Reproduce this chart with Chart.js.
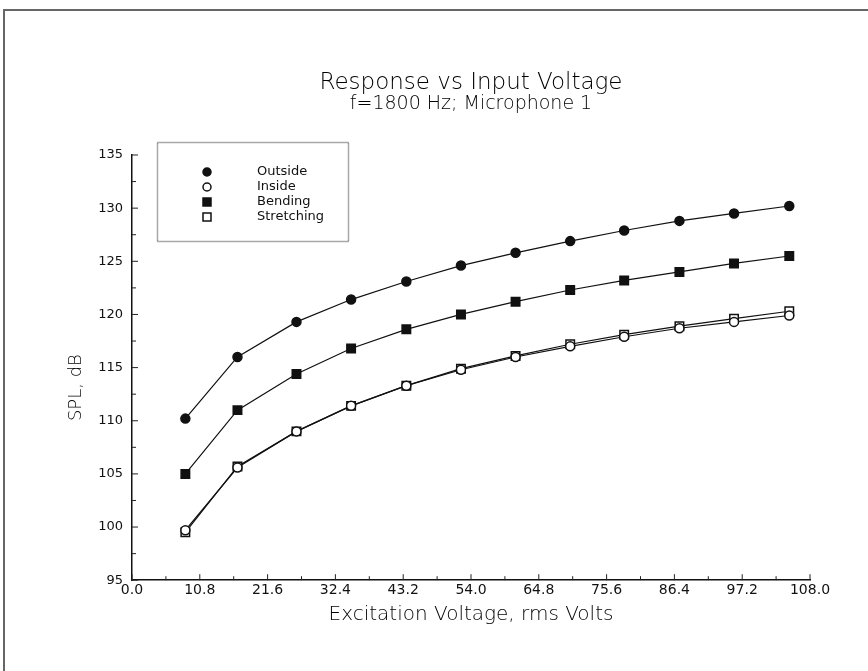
<!DOCTYPE html>
<html>
<head>
<meta charset="utf-8">
<title>Response vs Input Voltage</title>
<script src="https://cdn.jsdelivr.net/npm/chart.js@4.4.1/dist/chart.umd.min.js"></script>
<style>
  html, body { margin: 0; padding: 0; background: #fff; }
  #wrap { position: relative; width: 868px; height: 671px; }
  #frame { position: absolute; left: 3px; top: 9px; right: 0; bottom: 0;
           border-left: 2px solid #666; border-top: 2px solid #666; }
  canvas { position: absolute; left: 0; top: 0; }
</style>
</head>
<body>
<div id="wrap">
  <div id="frame"></div>
  <canvas id="myChart" width="868" height="671"></canvas>
</div>
<script>
// 電圧（横軸）
var voltage = [8.5, 16.8, 26.2, 34.9, 43.7, 52.4, 61.1, 69.8, 78.4, 87.2, 95.9, 104.7];

// 各系列のSPL値 (dB)
var outside    = [110.2, 116.0, 119.3, 121.4, 123.1, 124.6, 125.8, 126.9, 127.9, 128.8, 129.5, 130.2];
var inside     = [99.7, 105.6, 109.0, 111.4, 113.3, 114.8, 116.0, 117.0, 117.9, 118.7, 119.3, 119.9];
var bending    = [105.0, 111.0, 114.4, 116.8, 118.6, 120.0, 121.2, 122.3, 123.2, 124.0, 124.8, 125.5];
var stretching = [99.5, 105.7, 109.0, 111.4, 113.3, 114.9, 116.1, 117.2, 118.1, 118.9, 119.6, 120.3];

var seriesNames = ['Outside', 'Inside', 'Bending', 'Stretching'];
var xTickStep = 10.8;
var yTickStep = 5;

function pts(vals) {
  var arr = [];
  for (var i = 0; i < vals.length; i++) {
    arr.push({ x: voltage[i], y: vals[i] });
  }
  return arr;
}

function makeSet(name, vals, shape, filled) {
  return {
    label: name,
    data: pts(vals),
    showLine: true,
    borderColor: '#111',
    borderWidth: 1.2,
    pointStyle: shape,
    pointRadius: shape === 'rect' ? 6 : 4.5,
    pointBorderWidth: 1.5,
    pointBorderColor: '#111',
    pointBackgroundColor: filled ? '#111' : '#fff',
    tension: 0
  };
}

var fontFam = "'DejaVu Sans', 'Open Sans', sans-serif";

// 軸の内向き目盛り
var innerTicks = {
  id: 'innerTicks',
  afterDatasetsDraw: function(chart) {
    var c = chart.ctx, xs = chart.scales.x, ys = chart.scales.y;
    c.save();
    c.strokeStyle = '#222';
    c.lineWidth = 1;
    var i, p, len;
    for (i = 0; i <= 20; i++) {
      p = xs.getPixelForValue(i * xTickStep / 2);
      len = (i % 2 === 0) ? 6 : 4;
      c.beginPath();
      c.moveTo(p, ys.bottom);
      c.lineTo(p, ys.bottom - len);
      c.stroke();
    }
    for (i = 0; i <= 16; i++) {
      p = ys.getPixelForValue(95 + i * yTickStep / 2);
      len = (i % 2 === 0) ? 6 : 4;
      c.beginPath();
      c.moveTo(xs.left, p);
      c.lineTo(xs.left + len, p);
      c.stroke();
    }
    c.restore();
  }
};

// グラフ内の凡例ボックス
var legendBox = {
  id: 'legendBox',
  afterDraw: function(chart) {
    var c = chart.ctx;
    c.save();
    c.strokeStyle = '#555';
    c.lineWidth = 1.5;
    c.setLineDash([1, 1]);
    c.strokeRect(157.5, 142.5, 191, 99);
    c.setLineDash([]);
    c.font = '13px ' + fontFam;
    c.textBaseline = 'middle';
    chart.data.datasets.forEach(function(ds, i) {
      var y = 172 + i * 15, x = 207;
      c.fillStyle = ds.pointBackgroundColor;
      c.strokeStyle = ds.pointBorderColor;
      c.lineWidth = 1.5;
      c.beginPath();
      if (ds.pointStyle === 'rect') {
        c.rect(x - 4, y - 4, 8, 8);
      } else {
        c.arc(x, y, 4, 0, Math.PI * 2);
      }
      c.fill();
      c.stroke();
      c.fillStyle = '#111';
      c.fillText(ds.label, 257, y);
    });
    c.restore();
  }
};

var ctx = document.getElementById('myChart');

var myChart = new Chart(ctx, {
  type: 'scatter',
  data: {
    datasets: [
      makeSet(seriesNames[0], outside, 'circle', true),
      makeSet(seriesNames[1], inside, 'circle', false),
      makeSet(seriesNames[2], bending, 'rect', true),
      makeSet(seriesNames[3], stretching, 'rect', false)
    ]
  },
  options: {
    responsive: false,
    animation: false,
    layout: { padding: { top: 72, left: 66, right: 58, bottom: 44 } },
    plugins: {
      legend: { display: false },
      tooltip: { enabled: false },
      title: {
        display: true,
        fullSize: false,
        text: 'Response vs Input Voltage',
        color: '#000',
        font: { family: fontFam, size: 23, weight: '200', lineHeight: 1 },
        padding: { top: 0, bottom: 0 }
      },
      subtitle: {
        display: true,
        fullSize: false,
        text: 'f=1800 Hz; Microphone 1',
        color: '#000',
        font: { family: fontFam, size: 19, weight: '200', lineHeight: 1 },
        padding: { top: 0, bottom: 41 }
      }
    },
    scales: {
      x: {
        type: 'linear',
        min: 0,
        max: 108,
        afterBuildTicks: function(scale) {
          var t = [];
          for (var i = 0; i <= 10; i++) t.push({ value: +(i * xTickStep).toFixed(1) });
          scale.ticks = t;
        },
        ticks: {
          color: '#111',
          font: { family: fontFam, size: 14 },
          padding: 2,
          maxRotation: 0,
          callback: function(v) { return Number(v).toFixed(1); }
        },
        grid: { display: false, drawTicks: false, tickLength: 0 },
        border: { display: true, color: '#111', width: 1.5 },
        title: {
          display: true,
          text: 'Excitation Voltage, rms Volts',
          color: '#000',
          font: { family: fontFam, size: 20, weight: '200' },
          padding: { top: 2, bottom: 0 }
        }
      },
      y: {
        min: 95,
        max: 135,
        ticks: {
          stepSize: yTickStep,
          color: '#111',
          font: { family: fontFam, size: 13 },
          padding: 9
        },
        afterFit: function(scale) { scale.width = 66; },
        grid: { display: false, drawTicks: false, tickLength: 0 },
        border: { display: true, color: '#111', width: 1.5 },
        title: {
          display: true,
          // 末尾の空白でラベルを下寄せにする
          text: 'SPL, dB       ',
          color: '#000',
          font: { family: fontFam, size: 18, weight: '200' },
          padding: { top: 0, bottom: 2 }
        }
      }
    }
  },
  plugins: [innerTicks, legendBox]
});
</script>
</body>
</html>
